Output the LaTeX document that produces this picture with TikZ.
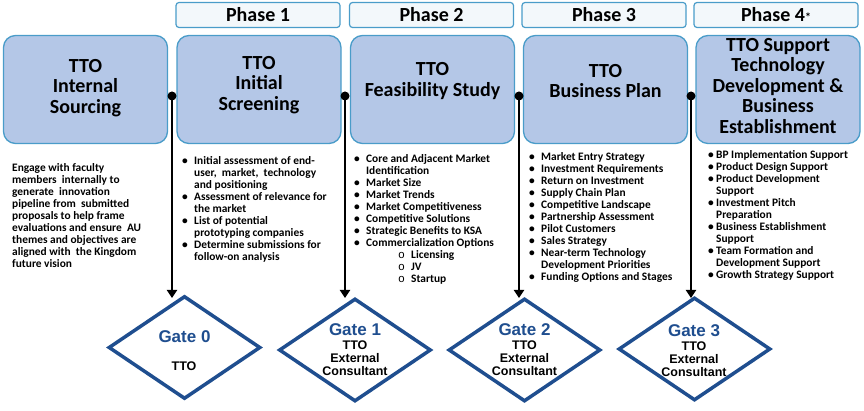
\documentclass[tikz,border=0pt]{standalone}
\usepackage{fontspec}
\setmainfont{Carlito}
\newfontfamily\arialf{Liberation Sans}
\newfontfamily\monof{Liberation Mono}
\usetikzlibrary{shapes.geometric,arrows.meta}
\definecolor{boxfill}{HTML}{B4C7E7}
\definecolor{boxline}{HTML}{4A9CC9}
\definecolor{headfill}{HTML}{F3F8FB}
\definecolor{gateblue}{HTML}{1F4E8F}
\tikzset{
  phasebox/.style={draw=boxline, fill=headfill, line width=1.2pt, rounded corners=3pt, minimum width=164pt, minimum height=25pt, inner sep=0pt, font=\fontsize{20}{21}\selectfont\bfseries},
  mainbox/.style={draw=boxline, fill=boxfill, line width=1.3pt, rounded corners=12pt, minimum width=164pt, minimum height=108pt, inner sep=0pt},
  boxtitle/.style={align=center, inner sep=0pt, font=\fontsize{20}{20.5}\selectfont\bfseries},
  listtext/.style={align=left, inner sep=0pt, anchor=north west, font=\fontsize{11.4}{12}\selectfont\bfseries},
  dot/.style={circle, fill=black, inner sep=0pt, minimum size=9pt},
  flow/.style={line width=2pt, -{Triangle[length=8pt,width=10pt]}},
  gate/.style={diamond, draw=gateblue, line width=3.5pt, fill=white, minimum width=152pt, minimum height=103pt, inner sep=0pt},
  gatetitle/.style={inner sep=0pt, text=gateblue, font=\arialf\fontsize{17}{19}\selectfont\bfseries},
  gatesub/.style={inner sep=0pt, align=center, font=\arialf\fontsize{12.5}{13}\selectfont\bfseries}
}
\newcommand\bu[1]{\makebox[#1][l]{•}}
\newcommand\sub{\hspace*{44pt}\makebox[13pt][l]{{\monof\mdseries o}}}
\begin{document}
\begin{tikzpicture}[x=1pt,y=-1pt]
\useasboundingbox (0,0) rectangle (864,411);
% phase headers
\node[phasebox] (p1) at (258,15) {Phase 1};
\node[phasebox] (p2) at (431.5,15) {Phase 2};
\node[phasebox] (p3) at (604,15) {Phase 3};
\node[phasebox] (p4) at (776,15) {Phase 4{\fontsize{12}{12}\selectfont *}};
% main boxes
\node[mainbox] (b0) at (85.5,89.5) {};
\node[mainbox] (b1) at (259,89.5) {};
\node[mainbox] (b2) at (432.5,89.5) {};
\node[mainbox] (b3) at (605.5,89.5) {};
\node[mainbox] (b4) at (778,89.5) {};
\node[boxtitle] (t0) at (85.5,88) {TTO\\Internal\\Sourcing};
\node[boxtitle] (t1) at (259,85) {TTO\\Initial\\Screening};
\node[boxtitle] (t2) at (432.5,81) {TTO\\Feasibility Study};
\node[boxtitle] (t3) at (605.5,81) {TTO\\Business Plan};
\node[boxtitle] (t4) at (778,86) {TTO Support\\Technology\\Development \&\\Business\\Establishment};
% text columns
\node[listtext] (l0) at (12,163.5) {Engage with faculty\\members\ \ internally to\\generate\ \ innovation\\pipeline from\ \ submitted\\proposals to help frame\\evaluations and ensure\ \ AU\\themes and objectives are\\aligned with\ \ the Kingdom\\future vision};
\node[listtext] (l1) at (182,156) {\bu{12pt}Initial assessment of end-\\\hspace*{12pt}user,\ \ market,\ \ technology\\\hspace*{12pt}and positioning\\\bu{12pt}Assessment of relevance for\\\hspace*{12pt}the market\\\bu{12pt}List of potential\\\hspace*{12pt}prototyping companies\\\bu{12pt}Determine submissions for\\\hspace*{12pt}follow-on analysis};
\node[listtext] (l2) at (354,154.5) {\bu{12pt}Core and Adjacent Market\\\hspace*{12pt}Identification\\\bu{12pt}Market Size\\\bu{12pt}Market Trends\\\bu{12pt}Market Competitiveness\\\bu{12pt}Competitive Solutions\\\bu{12pt}Strategic Benefits to KSA\\\bu{12pt}Commercialization Options\\\sub Licensing\\\sub JV\\\sub Startup};
\node[listtext] (l3) at (529,152) {\bu{12pt}Market Entry Strategy\\\bu{12pt}Investment Requirements\\\bu{12pt}Return on Investment\\\bu{12pt}Supply Chain Plan\\\bu{12pt}Competitive Landscape\\\bu{12pt}Partnership Assessment\\\bu{12pt}Pilot Customers\\\bu{12pt}Sales Strategy\\\bu{12pt}Near-term Technology\\\hspace*{12pt}Development Priorities\\\bu{12pt}Funding Options and Stages};
\node[listtext] (l4) at (708,150) {\bu{8pt}BP Implementation Support\\\bu{8pt}Product Design Support\\\bu{8pt}Product Development\\\hspace*{8pt}Support\\\bu{8pt}Investment Pitch\\\hspace*{8pt}Preparation\\\bu{8pt}Business Establishment\\\hspace*{8pt}Support\\\bu{8pt}Team Formation and\\\hspace*{8pt}Development Support\\\bu{8pt}Growth Strategy Support};
% gates
\node[gate] (g0) at (184.5,347.5) {};
\node[gate] (g1) at (355,350) {};
\node[gate] (g2) at (524.5,350) {};
\node[gate] (g3) at (694.5,349) {};
\node[gatetitle] (gt0) at (184.5,337) {Gate 0};
\node[gatesub] (gs0) at (184,366) {TTO};
\node[gatetitle] (gt1) at (355,330) {Gate 1};
\node[gatesub] (gs1) at (355,358) {TTO\\External\\Consultant};
\node[gatetitle] (gt2) at (524.5,330) {Gate 2};
\node[gatesub] (gs2) at (524.5,358.5) {TTO\\External\\Consultant};
\node[gatetitle] (gt3) at (694,331) {Gate 3};
\node[gatesub] (gs3) at (694,359.5) {TTO\\External\\Consultant};
% connectors
\node[dot] (d1) at (172,96) {};
\node[dot] (d2) at (345,96) {};
\node[dot] (d3) at (519,96) {};
\node[dot] (d4) at (691,96) {};
\coordinate (a1) at (172,298);
\coordinate (a2) at (345,298);
\coordinate (a3) at (519,298);
\coordinate (a4) at (691,298);
\draw[flow] (d1.center) -- (a1);
\draw[flow] (d2.center) -- (a2);
\draw[flow] (d3.center) -- (a3);
\draw[flow] (d4.center) -- (a4);
\end{tikzpicture}
\end{document}
